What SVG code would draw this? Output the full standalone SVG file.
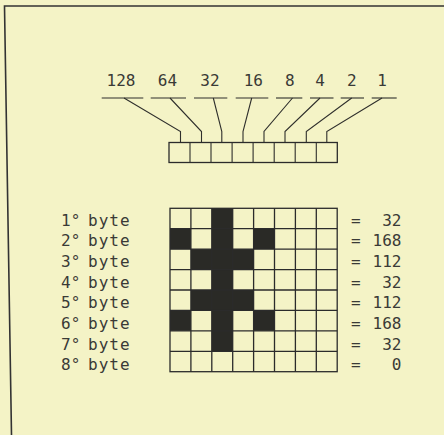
<svg xmlns="http://www.w3.org/2000/svg" width="444" height="435" viewBox="0 0 444 435">
<style>
.t{font-family:"DejaVu Sans Mono","Liberation Mono",monospace;font-size:16px;fill:#3a3a36}
.m{text-anchor:middle}
.e{text-anchor:end}
.ln{stroke:#2f2f2c;stroke-width:1.1;fill:none}
.cell{fill:none;stroke:#2b2b2b;stroke-width:1.3}
.on{fill:#2a2a26}
</style>
<rect x="0" y="0" width="444" height="435" fill="#f4f3c6"/>
<g id="frame"><path d="M444 6 L4.5 6 L11.5 435" fill="none" stroke="#333" stroke-width="1.6"/></g>

<g id="weights">
<text class="t m" x="121" y="86">128</text>
<text class="t m" x="167.5" y="86">64</text>
<text class="t m" x="210" y="86">32</text>
<text class="t m" x="253.3" y="86">16</text>
<text class="t m" x="289.8" y="86">8</text>
<text class="t m" x="320" y="86">4</text>
<text class="t m" x="351.7" y="86">2</text>
<text class="t m" x="382" y="86">1</text>
</g>

<g id="connectors" class="ln">
<path d="M101.7 98H143.3"/><path d="M150.7 98H186"/><path d="M194 98H227.3"/><path d="M235.7 98H268.3"/>
<path d="M276 98H302.3"/><path d="M310 98H333.5"/><path d="M340.7 98H364"/><path d="M371.7 98H396.7"/>
<polyline points="124,98 180.5,131.5 180.5,142.5"/>
<polyline points="170,98 201.5,131.5 201.5,142.5"/>
<polyline points="213.3,98 221.8,131.5 221.8,142.5"/>
<polyline points="251.7,98 243,131.5 243,142.5"/>
<polyline points="292.5,98 264,131.5 264,142.5"/>
<polyline points="320,98 285,131.5 285,142.5"/>
<polyline points="351.7,98 306.3,131.5 306.3,142.5"/>
<polyline points="382,98 326.8,131.5 326.8,142.5"/>
</g>

<g id="register">
<rect class="cell" x="169" y="142.5" width="168.3" height="20"/>
<path class="ln" d="M190 142.5V162.5M211 142.5V162.5M232.1 142.5V162.5M253.1 142.5V162.5M274.2 142.5V162.5M295.2 142.5V162.5M316.3 142.5V162.5"/>
</g>

<g id="grid">
<rect class="on" x="211.8" y="208.3" width="20.9" height="142.9"/>
<rect class="on" x="170" y="228.7" width="20.9" height="20.4"/>
<rect class="on" x="253.6" y="228.7" width="20.9" height="20.4"/>
<rect class="on" x="190.9" y="249.1" width="62.7" height="20.4"/>
<rect class="on" x="190.9" y="290" width="62.7" height="20.4"/>
<rect class="on" x="170" y="310.4" width="20.9" height="20.4"/>
<rect class="on" x="253.6" y="310.4" width="20.9" height="20.4"/>
<rect class="cell" x="170" y="208.3" width="167.2" height="163.4"/>
<path class="cell" d="M190.9 208.3V371.7M211.8 208.3V371.7M232.7 208.3V371.7M253.6 208.3V371.7M274.5 208.3V371.7M295.4 208.3V371.7M316.3 208.3V371.7"/>
<path class="cell" d="M170 228.7H337.2M170 249.1H337.2M170 269.6H337.2M170 290H337.2M170 310.4H337.2M170 330.8H337.2M170 351.3H337.2"/>
</g>

<g id="row-labels">
<text class="t" x="61" y="225.5">1°<tspan x="88" letter-spacing="1">byte</tspan></text>
<text class="t" x="61" y="246.2">2°<tspan x="88" letter-spacing="1">byte</tspan></text>
<text class="t" x="61" y="266.9">3°<tspan x="88" letter-spacing="1">byte</tspan></text>
<text class="t" x="61" y="287.6">4°<tspan x="88" letter-spacing="1">byte</tspan></text>
<text class="t" x="61" y="308.3">5°<tspan x="88" letter-spacing="1">byte</tspan></text>
<text class="t" x="61" y="329">6°<tspan x="88" letter-spacing="1">byte</tspan></text>
<text class="t" x="61" y="349.7">7°<tspan x="88" letter-spacing="1">byte</tspan></text>
<text class="t" x="61" y="370.4">8°<tspan x="88" letter-spacing="1">byte</tspan></text>
</g>

<g id="values">
<text class="t m" x="355.8" y="225.5">=</text><text class="t e" x="401.5" y="225.5">32</text>
<text class="t m" x="355.8" y="246.2">=</text><text class="t e" x="401.5" y="246.2">168</text>
<text class="t m" x="355.8" y="266.9">=</text><text class="t e" x="401.5" y="266.9">112</text>
<text class="t m" x="355.8" y="287.6">=</text><text class="t e" x="401.5" y="287.6">32</text>
<text class="t m" x="355.8" y="308.3">=</text><text class="t e" x="401.5" y="308.3">112</text>
<text class="t m" x="355.8" y="329">=</text><text class="t e" x="401.5" y="329">168</text>
<text class="t m" x="355.8" y="349.7">=</text><text class="t e" x="401.5" y="349.7">32</text>
<text class="t m" x="355.8" y="370.4">=</text><text class="t e" x="401.5" y="370.4">0</text>
</g>
</svg>
